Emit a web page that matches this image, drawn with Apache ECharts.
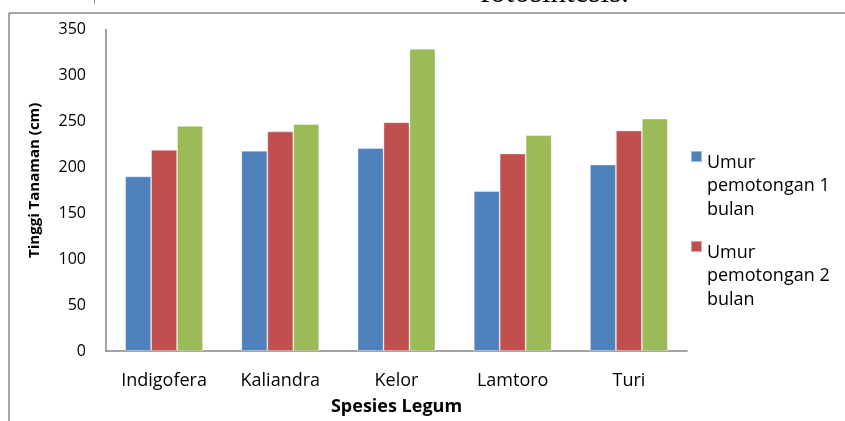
<!DOCTYPE html>
<html>
<head>
<meta charset="utf-8">
<script src="https://cdn.jsdelivr.net/npm/echarts@6/dist/echarts.min.js"></script>
<style>
  html, body { margin: 0; padding: 0; background: #fff; }
  #chart { width: 845px; height: 421px; }
</style>
</head>
<body>
<div id="chart"></div>
<script>
let species = ['Indigofera', 'Kaliandra', 'Kelor', 'Lamtoro', 'Turi']
let umur1 = [190, 218, 221, 174, 203]
let umur2 = [219, 239, 249, 215, 240]
let umur3 = [245, 247, 329, 235, 253]
let yTicks = [0, 50, 100, 150, 200, 250, 300, 350]

let names = ['Umur pemotongan 1 bulan', 'Umur pemotongan 2 bulan', 'Umur pemotongan 3 bulan']
let colors = ['#4F81BD', '#C0504D', '#9BBB59']

let Chart = echarts.init(document.getElementById('chart'))

function getOption() {
  let font = 'Open Sans'
  let option = {
    animation: false,
    textStyle: { fontFamily: font, color: '#000' },
    grid: { left: 106, right: 158, top: 29.5, bottom: 63, containLabel: false },
    legend: {
      // only two entries are shown in the original
      data: [names[0], names[1]],
      orient: 'vertical',
      left: 685,
      top: 145,
      itemWidth: 11,
      itemHeight: 70,
      itemGap: 18,
      // square sits at the top of a tall box so it lines up with the first line
      icon: 'path://M0,0L11,0L11,11L0,11ZM0,70',
      selectedMode: false,
      formatter: function (name) {
        return name.replace('Umur ', 'Umur\n').replace(' bulan', '\nbulan')
      },
      textStyle: { fontFamily: font, fontSize: 18, lineHeight: 23.5, color: '#000' }
    },
    xAxis: {
      type: 'category',
      data: species,
      name: 'Spesies Legum',
      nameLocation: 'middle',
      nameGap: 47,
      nameTextStyle: { fontFamily: font, fontSize: 18, fontWeight: 'bold', color: '#000' },
      axisLine: { lineStyle: { color: '#868686', width: 1.5 } },
      axisTick: { show: false },
      axisLabel: { fontFamily: font, fontSize: 18, color: '#000', margin: 21 }
    },
    yAxis: {
      type: 'value',
      min: yTicks[0],
      max: yTicks[yTicks.length - 1],
      interval: 50,
      name: 'Tinggi Tanaman (cm)',
      nameLocation: 'middle',
      nameGap: 64,
      nameTextStyle: { fontFamily: font, fontSize: 15, fontWeight: 'bold', color: '#000', padding: [0, 0, 0, 20] },
      axisLine: { show: true, lineStyle: { color: '#868686', width: 1.5 } },
      axisTick: { show: false },
      splitLine: { show: false },
      axisLabel: { fontFamily: font, fontSize: 16, color: '#000', margin: 20 }
    },
    series: [umur1, umur2, umur3].map(function (vals, i) {
      return {
        name: names[i],
        type: 'bar',
        data: vals,
        barGap: '0%',
        barCategoryGap: '33%',
        itemStyle: { color: colors[i], borderColor: 'rgba(255,255,255,0.45)', borderWidth: 0.8 }
      }
    }),
    graphic: [
      // frame of the chart object in the document
      { type: 'line', shape: { x1: 9, y1: 13, x2: 845, y2: 13 }, style: { stroke: '#878787', lineWidth: 1.5 } },
      { type: 'line', shape: { x1: 9, y1: 13, x2: 9, y2: 421 }, style: { stroke: '#878787', lineWidth: 1.5 } },
      { type: 'line', shape: { x1: 94.5, y1: 0, x2: 94.5, y2: 4 }, style: { stroke: '#999', lineWidth: 1 } },
      // text of the page above, cut off at the top
      {
        type: 'text', left: 480, top: -22,
        style: { text: 'fotosintesis.', font: '31px "Liberation Serif", serif', fill: '#000' }
      }
    ]
  }
  return option
}

Chart.setOption(getOption())
</script>
</body>
</html>
